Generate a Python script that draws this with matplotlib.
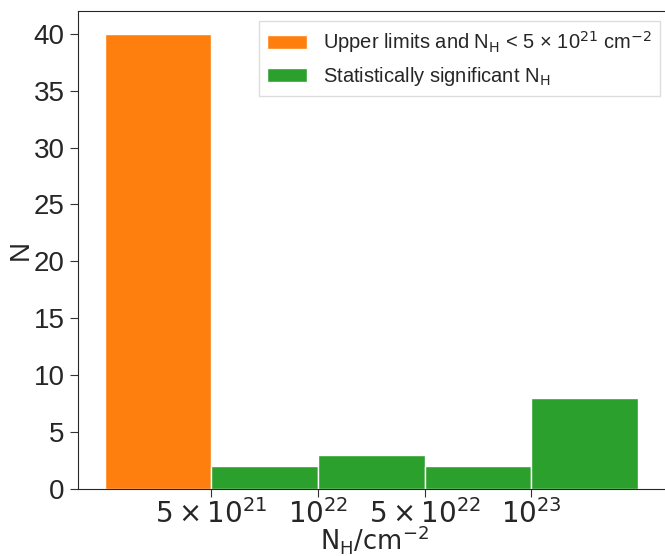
import matplotlib
matplotlib.use("Agg")
import matplotlib.pyplot as plt
import seaborn as sns

sns.set_style("ticks")
plt.rcParams['font.family'] = ['Liberation Sans', 'DejaVu Sans']

# bins (index positions) and counts
upper_bins = [0]
upper_counts = [40]
sig_bins = [1, 2, 3, 4]
sig_counts = [2, 3, 2, 8]
tick_pos = [1, 2, 3, 4]
tick_labels = [r'$5\times10^{21}$', r'$10^{22}$', r'$5\times10^{22}$', r'$10^{23}$']
y_ticks = [0, 5, 10, 15, 20, 25, 30, 35, 40]

fig = plt.figure(figsize=(6.65, 5.56), dpi=100)
ax = fig.add_axes([78/665, 1 - 489/556, 592/665, 478/556])

ax.bar(upper_bins, upper_counts, width=1, align='edge', color='#ff7f0e',
       edgecolor='white', linewidth=1,
       label=r'Upper limits and N$_\mathrm{H}$ < 5 × 10$^{21}$ cm$^{-2}$')
ax.bar(sig_bins, sig_counts, width=1, align='edge', color='#2ca02c',
       edgecolor='white', linewidth=1,
       label=r'Statistically significant N$_\mathrm{H}$')

ax.set_xlim(-0.25, 5.3)
ax.set_ylim(0, 42)
ax.set_xticks(tick_pos)
ax.set_xticklabels(tick_labels)
ax.set_yticks(y_ticks)
ax.tick_params(axis='both', labelsize=20, length=6, color='#333333')
ax.tick_params(axis='x', pad=1)
ax.set_xlabel(r'$\mathrm{N_H/cm^{-2}}$', fontsize=18.5, labelpad=-4)
ax.set_ylabel('N', fontsize=20, labelpad=0)
ax.legend(loc='upper right', fontsize=14.5, fancybox=False, framealpha=1,
          edgecolor='#dddddd', borderaxespad=0.5)

fig.savefig('out.png', dpi=100)
